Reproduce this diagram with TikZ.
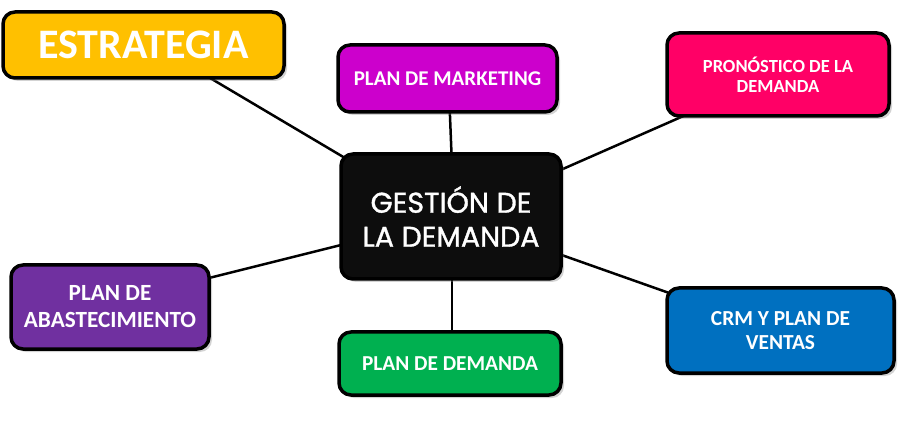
\documentclass[tikz,border=0pt]{standalone}
\usepackage{fontspec}
\setmainfont{Carlito}
\newfontfamily\popfont[FakeBold=1.2]{Poppins}
\usetikzlibrary{shadows,backgrounds}
\definecolor{cEst}{HTML}{FFC000}
\definecolor{cMkt}{HTML}{CC00CC}
\definecolor{cPro}{HTML}{FF0066}
\definecolor{cAba}{HTML}{7030A0}
\definecolor{cDem}{HTML}{00B050}
\definecolor{cCrm}{HTML}{0070C0}
\definecolor{cCtr}{HTML}{0D0D0D}
\tikzset{
  box/.style={draw=black, line width=3.5pt, rounded corners=12pt, text=white,
    align=center, inner sep=0pt, font=\bfseries,
    drop shadow={shadow xshift=3pt, shadow yshift=-3pt, opacity=0.35, fill=gray}},
  link/.style={line width=2.5pt, draw=black}
}
\begin{document}
\begin{tikzpicture}[x=1pt,y=-1pt]
\useasboundingbox (0,0) rectangle (903,422);
\node[box, fill=cEst, minimum width=281pt, minimum height=66pt, font=\bfseries\fontsize{42}{44}\selectfont] (est) at (143.5,45) {ESTRATEGIA};
\node[box, fill=cMkt, minimum width=219pt, minimum height=67pt, font=\bfseries\fontsize{21}{22}\selectfont] (mkt) at (447.5,78.5) {PLAN DE MARKETING};
\node[box, fill=cPro, minimum width=222pt, minimum height=83pt, font=\bfseries\fontsize{18.5}{19.5}\selectfont] (pro) at (778,74.5) {PRONÓSTICO DE LA\\DEMANDA};
\node[box, fill=cCtr, minimum width=220pt, minimum height=125pt, font=\popfont\fontsize{28.5}{34}\selectfont] (ctr) at (451,216.5) {GESTIÓN DE\\LA DEMANDA};
\node[box, fill=cAba, minimum width=198pt, minimum height=84pt, font=\bfseries\fontsize{23.2}{27}\selectfont] (aba) at (110,307) {PLAN DE\\ABASTECIMIENTO};
\node[box, fill=cDem, minimum width=222pt, minimum height=63pt, font=\bfseries\fontsize{21.3}{22}\selectfont] (dem) at (450,363.5) {PLAN DE DEMANDA};
\node[box, fill=cCrm, minimum width=227pt, minimum height=85pt, font=\bfseries\fontsize{21.4}{23.5}\selectfont] (crm) at (780.5,330.5) {CRM Y PLAN DE\\VENTAS};
\begin{scope}[on background layer]
\coordinate (e1) at (205,75);
\coordinate (c1) at (345,158);
\draw[link] (e1) -- (c1);
\draw[link] ([xshift=1pt]mkt.center) -- ([xshift=3pt]ctr.center);
\coordinate (p1) at (688,114);
\coordinate (c2) at (556,172);
\draw[link] (p1) -- (c2);
\coordinate (a1) at (205,279);
\coordinate (c3) at (345,244);
\draw[link] (a1) -- (c3);
\draw[link] ([xshift=1pt]ctr.center) -- ([xshift=2pt]dem.center);
\coordinate (c4) at (556,253);
\coordinate (r1) at (672,294);
\draw[link] (c4) -- (r1);
\end{scope}
\end{tikzpicture}
\end{document}
